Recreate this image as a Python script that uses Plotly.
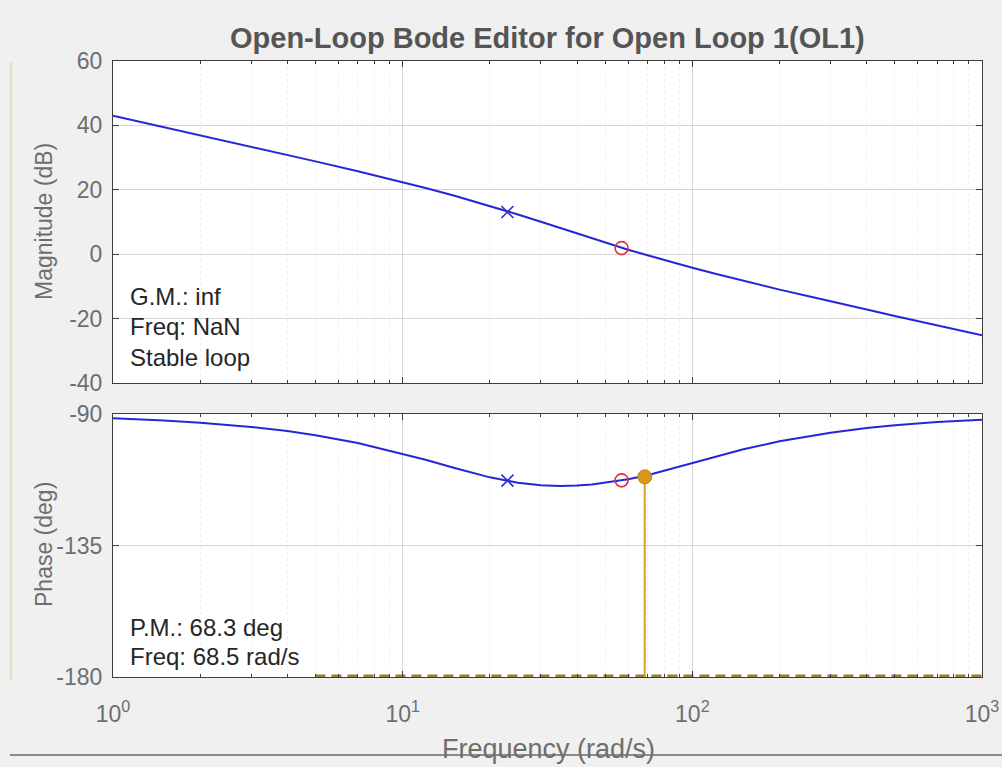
import plotly.graph_objects as go

# ---- data ----
freq = [1, 1.2, 1.5, 2, 3, 4, 5, 7, 10, 12, 15, 20, 25, 30, 35, 40, 45, 50, 60, 70,
        85, 100, 120, 150, 200, 250, 300, 400, 500, 700, 1000]
mag_db = [42.97, 41.38, 39.44, 36.93, 33.38, 30.83, 28.83, 25.76, 22.36, 20.54, 18.21,
          15.0, 12.35, 10.1, 8.2, 6.5, 5.05, 3.6, 1.4, -0.3, -2.5, -4.2, -6.1, -8.3,
          -11.0, -13.0, -14.7, -17.2, -19.2, -22.1, -25.2]
phase_deg = [-91.49, -91.8, -92.22, -92.96, -94.42, -95.85, -97.25, -99.93, -103.55,
             -105.66, -108.37, -111.68, -113.5, -114.4, -114.6, -114.5, -114.1, -113.5,
             -112.3, -110.97, -108.71, -106.74, -104.56, -102.09, -99.35, -97.58,
             -96.38, -94.82, -93.87, -92.78, -91.94]

pole_freq = [23]
pole_mag = [13.1]
pole_phase = [-112.8]
zero_freq = [57]
zero_mag = [1.9]
zero_phase = [-112.7]
pm_freq = [68.5]
pm_phase = [-111.5]
pm_base = [-180]
ref_line_freq = [5, 1000]
ref_line_phase = [-180, -180]

x_tickvals = [1, 10, 100, 1000]
x_ticktext = ["10<sup>0</sup>", "10<sup>1</sup>", "10<sup>2</sup>", "10<sup>3</sup>"]
mag_ticks = [-40, -20, 0, 20, 40, 60]
mag_ticktext = ["-40", "-20", "0", "20", "40", "60"]
phase_ticks = [-180, -135, -90]
phase_ticktext = ["-180", "-135", "-90"]

title_text = "Open-Loop Bode Editor for Open Loop 1(OL1)"
gm_lines = ["G.M.: inf", "Freq: NaN", "Stable loop"]
pm_lines = ["P.M.: 68.3 deg", "Freq: 68.5 rad/s"]

# ---- layout helpers (reference pixel -> paper) ----
W, H = 1002, 767
PL, PR, PT, PB = 113, 982, 61, 677          # plot area in reference pixels
L, T, R, B = PL, PT, W - PR, H - PB
PW, PH = PR - PL, PB - PT


def px(x):
    return (x - PL) / PW


def py(y):
    return (PB - y) / PH


minor_vals = [m * 10 ** d for d in range(3) for m in range(2, 10)]
BLUE = "#2626d9"
FONT = "Liberation Sans, Arial, sans-serif"

fig = go.Figure()
fig.add_trace(go.Scatter(x=freq, y=mag_db, mode="lines", line=dict(color=BLUE, width=2),
                         xaxis="x", yaxis="y", hoverinfo="skip"))
fig.add_trace(go.Scatter(x=freq, y=phase_deg, mode="lines", line=dict(color=BLUE, width=2),
                         xaxis="x2", yaxis="y2", hoverinfo="skip"))
fig.add_trace(go.Scatter(x=ref_line_freq, y=ref_line_phase, mode="lines",
                         line=dict(color="#9a7c3c", width=5, dash="10px,6px"),
                         xaxis="x2", yaxis="y2", hoverinfo="skip"))
fig.add_trace(go.Scatter(x=pm_freq * 2, y=pm_base + pm_phase, mode="lines",
                         line=dict(color="#d9a020", width=2),
                         xaxis="x2", yaxis="y2", hoverinfo="skip"))
fig.add_trace(go.Scatter(x=pm_freq, y=pm_phase, mode="markers",
                         marker=dict(color="#d9961a", size=14, line=dict(color="#c27f10", width=1)),
                         xaxis="x2", yaxis="y2", hoverinfo="skip"))
for xa, ya, pv, zv in (("x", "y", pole_mag, zero_mag), ("x2", "y2", pole_phase, zero_phase)):
    fig.add_trace(go.Scatter(x=pole_freq, y=pv, mode="markers",
                             marker=dict(symbol="x-thin", size=12, line=dict(color="#3030c8", width=1.6)),
                             xaxis=xa, yaxis=ya, hoverinfo="skip"))
    fig.add_trace(go.Scatter(x=zero_freq, y=zv, mode="markers",
                             marker=dict(symbol="circle-open", size=13, color="#e0303a",
                                         line=dict(color="#e0303a", width=1.6)),
                             xaxis=xa, yaxis=ya, hoverinfo="skip"))

axis_common = dict(showline=True, linecolor="#3c3c3c", linewidth=1, mirror="ticks",
                   ticks="inside", ticklen=6, tickcolor="#3c3c3c", automargin=False,
                   showgrid=True, gridcolor="#d6d6d6", gridwidth=1, zeroline=False,
                   tickfont=dict(family=FONT, size=23, color="#6e6e6e"))
xminor = dict(tickvals=minor_vals, ticks="inside", ticklen=3, tickcolor="#3c3c3c",
              showgrid=True, gridcolor="#efefef", griddash="dot")

fig.update_layout(
    width=W, height=H, autosize=False,
    margin=dict(l=L, r=R, t=T, b=B, autoexpand=False),
    paper_bgcolor="#f0f0f0", plot_bgcolor="#ffffff",
    showlegend=False,
    xaxis=dict(type="log", range=[0, 3], domain=[0, 1], anchor="y",
               tickvals=x_tickvals, showticklabels=False, minor=xminor, **axis_common),
    yaxis=dict(range=[-40, 60], domain=[py(383), 1], anchor="x", tickvals=mag_ticks,
               ticktext=mag_ticktext, ticklabelstandoff=5, **axis_common),
    xaxis2=dict(type="log", range=[0, 3], domain=[0, 1], anchor="y2",
                tickvals=x_tickvals, ticktext=x_ticktext, ticklabelstandoff=16,
                minor=xminor, **axis_common),
    yaxis2=dict(range=[-180, -90], domain=[0, py(414)], anchor="x2", tickvals=phase_ticks,
                ticktext=phase_ticktext, ticklabelstandoff=5, **axis_common),
)

ann = []
ann.append(dict(text="<b>" + title_text + "</b>", x=px(547), y=py(38), xref="paper", yref="paper",
                showarrow=False, font=dict(family=FONT, size=29, color="#555555"),
                xanchor="center", yanchor="middle"))
ann.append(dict(text="Magnitude (dB)", x=px(44), y=py(222), xref="paper", yref="paper",
                showarrow=False, textangle=-90, font=dict(family=FONT, size=23, color="#6e6e6e"),
                xanchor="center", yanchor="middle"))
ann.append(dict(text="Phase (deg)", x=px(44), y=py(545), xref="paper", yref="paper",
                showarrow=False, textangle=-90, font=dict(family=FONT, size=23, color="#6e6e6e"),
                xanchor="center", yanchor="middle"))
ann.append(dict(text="Frequency (rad/s)", x=px(548), y=py(749), xref="paper", yref="paper",
                showarrow=False, font=dict(family=FONT, size=27, color="#6e6e6e"),
                xanchor="center", yanchor="middle"))
for t, yy in zip(gm_lines, [296, 327, 357]):
    ann.append(dict(text=t, x=px(128), y=py(yy), xref="paper", yref="paper", showarrow=False,
                    font=dict(family=FONT, size=24, color="#262626"), xanchor="left", yanchor="middle"))
for t, yy in zip(pm_lines, [627, 656]):
    ann.append(dict(text=t, x=px(128), y=py(yy), xref="paper", yref="paper", showarrow=False,
                    font=dict(family=FONT, size=24, color="#262626"), xanchor="left", yanchor="middle"))
fig.update_layout(annotations=ann)

fig.update_layout(shapes=[
    dict(type="line", xref="paper", yref="paper", x0=px(11), x1=px(11), y0=py(62), y1=py(680),
         line=dict(color="#e6e2c8", width=3), layer="above"),
    dict(type="line", xref="paper", yref="paper", x0=px(10), x1=px(1002), y0=py(755), y1=py(755),
         line=dict(color="#8c8c8c", width=2), layer="above"),
])

fig.write_html(
    "out.html",
    config={"displayModeBar": False},
    post_script="document.body.style.margin='0';document.body.style.overflow='hidden';"
                "document.body.style.background='#f0f0f0';",
)
